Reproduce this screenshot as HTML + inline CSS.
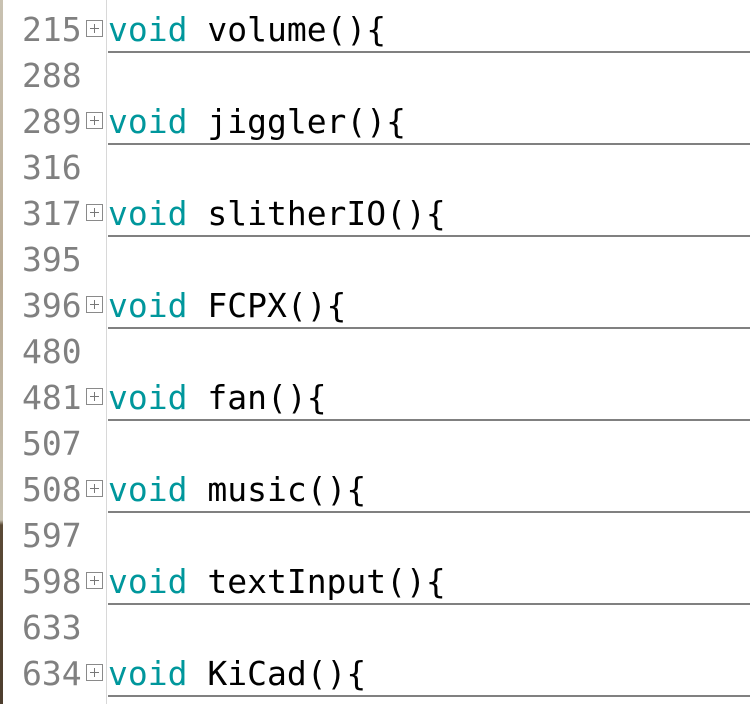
<!DOCTYPE html>
<html><head><style>
html,body{margin:0;padding:0;}
body{width:750px;height:704px;background:#fff;position:relative;overflow:hidden;font-family:"DejaVu Sans Mono","Liberation Mono",monospace;font-size:33px;}
.strip{position:absolute;left:0;top:0;width:3px;height:704px;background:linear-gradient(#c9c2b2 0,#b9ab95 280px,#c6c0b0 520px,#5b4a36 525px,#4d3e2e 704px);}
.vl{position:absolute;left:106px;top:0;width:1px;height:704px;background:#d8d8d8;}
.row{position:absolute;left:0;height:46px;width:750px;}
.num{position:absolute;left:22px;top:0;color:#808080;line-height:40px;}
.box{position:absolute;left:86px;top:10px;width:17px;height:17px;border:1px solid #8a8a8a;box-sizing:border-box;}
.box:before{content:"";position:absolute;left:3px;top:7px;width:9px;height:1px;background:#777;}
.box:after{content:"";position:absolute;left:7px;top:3px;width:1px;height:9px;background:#777;}
.code{position:absolute;left:108px;top:0;line-height:40px;color:#000;white-space:pre;}
.kw{color:#00979c;}
.ul{position:absolute;left:108px;top:41px;width:642px;height:2px;background:#808080;}
</style></head><body>
<div class="strip"></div>
<div class="vl"></div>

<div class="row" style="top:10px"><span class="num">215</span><div class="box"></div><span class="code"><span class="kw">void</span> volume(){</span><div class="ul"></div></div>
<div class="row" style="top:56px"><span class="num">288</span></div>
<div class="row" style="top:102px"><span class="num">289</span><div class="box"></div><span class="code"><span class="kw">void</span> jiggler(){</span><div class="ul"></div></div>
<div class="row" style="top:148px"><span class="num">316</span></div>
<div class="row" style="top:194px"><span class="num">317</span><div class="box"></div><span class="code"><span class="kw">void</span> slitherIO(){</span><div class="ul"></div></div>
<div class="row" style="top:240px"><span class="num">395</span></div>
<div class="row" style="top:286px"><span class="num">396</span><div class="box"></div><span class="code"><span class="kw">void</span> FCPX(){</span><div class="ul"></div></div>
<div class="row" style="top:332px"><span class="num">480</span></div>
<div class="row" style="top:378px"><span class="num">481</span><div class="box"></div><span class="code"><span class="kw">void</span> fan(){</span><div class="ul"></div></div>
<div class="row" style="top:424px"><span class="num">507</span></div>
<div class="row" style="top:470px"><span class="num">508</span><div class="box"></div><span class="code"><span class="kw">void</span> music(){</span><div class="ul"></div></div>
<div class="row" style="top:516px"><span class="num">597</span></div>
<div class="row" style="top:562px"><span class="num">598</span><div class="box"></div><span class="code"><span class="kw">void</span> textInput(){</span><div class="ul"></div></div>
<div class="row" style="top:608px"><span class="num">633</span></div>
<div class="row" style="top:654px"><span class="num">634</span><div class="box"></div><span class="code"><span class="kw">void</span> KiCad(){</span><div class="ul"></div></div>
</body></html>
